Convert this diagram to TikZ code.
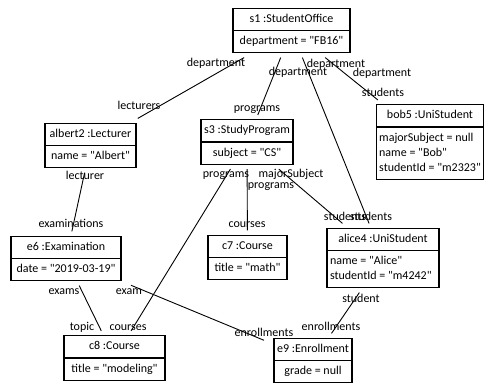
\documentclass[tikz,border=0pt]{standalone}
\usepackage{fontspec}
\setmainfont{Carlito}[Ligatures=TeXOff]
\usetikzlibrary{shapes.multipart}
\newcommand{\rows}[1]{\begin{tabular}{@{}l@{}}#1\end{tabular}}

\begin{document}
\begin{tikzpicture}[x=1pt, y=-1pt,
  font=\fontsize{12}{15}\selectfont,
  obj/.style={rectangle split, rectangle split parts=2, draw, line width=1.1pt,
    inner xsep=3pt, inner ysep=3pt, outer xsep=10pt, outer ysep=5pt},
  lobj/.style={obj, rectangle split part align={center,left}},
  lnk/.style={line width=.9pt},
  lbl/.style={inner sep=0pt, text height=8.5pt, text depth=2.5pt},
  ]
\useasboundingbox (0,0) rectangle (486,385);

\path (291.5,30.5) node[obj, minimum width=117pt](s1){\rows{s1 :StudentOffice}\nodepart{two}\rows{department = "FB16"}};
\path (430,142) node[lobj, minimum width=102pt](bob5){\rows{bob5 :UniStudent}\nodepart{two}\rows{majorSubject = null\\name = "Bob"\\studentId = "m2323"}};
\path (247,142) node[obj, minimum width=92pt](s3){\rows{s3 :StudyProgram}\nodepart{two}\rows{subject = "CS"}};
\path (90.5,145.5) node[obj, minimum width=91pt](albert2){\rows{albert2 :Lecturer}\nodepart{two}\rows{name = "Albert"}};

\path (66,258.5) node[obj, minimum width=110pt](e6){\rows{e6 :Examination}\nodepart{two}\rows{date = "2019-03-19"}};
\path (247.5,257.5) node[obj, minimum width=79pt](c7){\rows{c7 :Course}\nodepart{two}\rows{title = "math"}};
\path (383,258) node[lobj, minimum width=112pt](alice4){\rows{alice4 :UniStudent}\nodepart{two}\rows{name = "Alice"\\studentId = "m4242"}};

\path (114.5,358) node[obj, minimum width=101pt](c8){\rows{c8 :Course}\nodepart{two}\rows{title = "modeling"}};
\path (313,360.5) node[obj, minimum width=78pt](e9){\rows{e9 :Enrollment}\nodepart{two}\rows{grade = null}};

% links
\draw[lnk] (s1) -- (albert2);
\draw[lnk] (s1) -- (s3);
\draw[lnk] (s1) -- (alice4);
\draw[lnk] (s1) -- (bob5);
\draw[lnk] (albert2) -- (e6);
\draw[lnk] (s3) -- (c8);
\draw[lnk] (s3) -- (c7);
\draw[lnk] (s3) -- (alice4);
\draw[lnk] (alice4) -- (e9);
\draw[lnk] (e6) -- (c8);
\draw[lnk] (e6) -- (e9);

% role names
\path (216,64) node[lbl](r1a){department};
\path (139,107) node[lbl](r1b){lecturers};
\path (298,73) node[lbl](r2a){department};
\path (257,108) node[lbl](r2b){programs};
\path (336,65) node[lbl](r3a){department};
\path (371,217) node[lbl](r3b){students};
\path (382,74) node[lbl](r4a){department};
\path (383,93) node[lbl](r4b){students};
\path (85,176) node[lbl](r5a){lecturer};
\path (71,224) node[lbl](r5b){examinations};
\path (226,174) node[lbl](r6a){programs};
\path (128,327) node[lbl](r6b){courses};
\path (271,185) node[lbl](r7a){programs};
\path (247,224) node[lbl](r7b){courses};
\path (291,174) node[lbl](r8a){majorSubject};
\path (345,217) node[lbl](r8b){students};
\path (361,299) node[lbl](r9a){student};
\path (331,327) node[lbl](r9b){enrollments};
\path (64,291) node[lbl](r10a){exams};
\path (82,327) node[lbl](r10b){topic};
\path (129,291) node[lbl](r11a){exam};
\path (264,333) node[lbl](r11b){enrollments};

\end{tikzpicture}
\end{document}
